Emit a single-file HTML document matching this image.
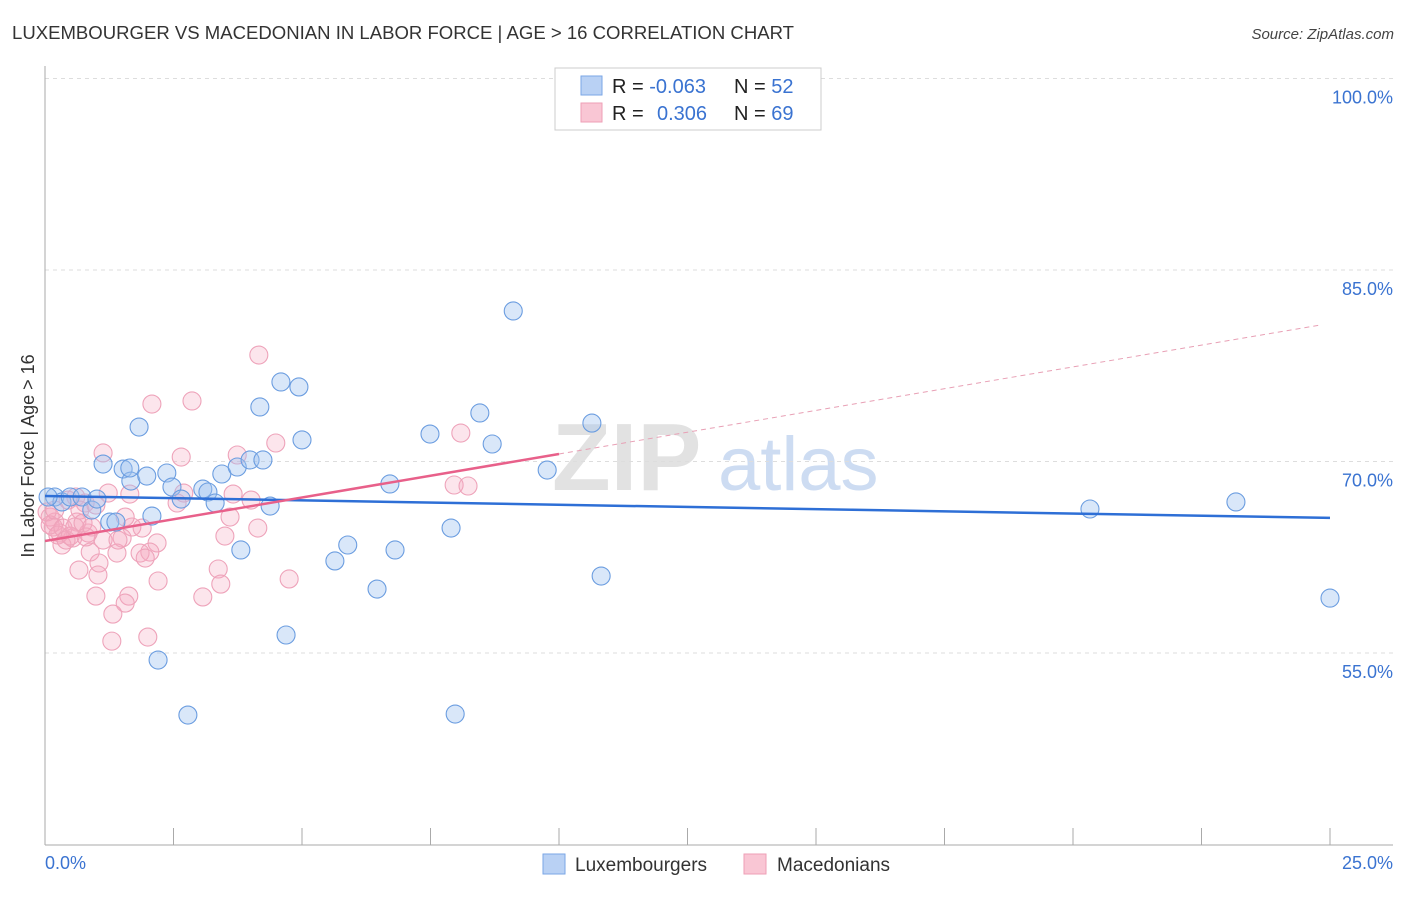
<!DOCTYPE html>
<html><head><meta charset="utf-8"><style>
body{margin:0;background:#fff;font-family:"Liberation Sans",sans-serif}
svg text{font-family:"Liberation Sans",sans-serif}
</style></head><body>
<svg id="chart" width="1406" height="892" viewBox="0 0 1406 892" xmlns="http://www.w3.org/2000/svg">
<text x="12" y="39" font-size="18" fill="#333" textLength="782" lengthAdjust="spacingAndGlyphs">LUXEMBOURGER VS MACEDONIAN IN LABOR FORCE | AGE &gt; 16 CORRELATION CHART</text>
<text x="1394" y="39" font-size="15" fill="#444" text-anchor="end" font-style="italic">Source: ZipAtlas.com</text>
<g>
<text x="552" y="490" font-size="96" fill="#e2e2e2" font-family="Liberation Serif" font-weight="bold">ZIP</text>
<text x="718" y="490" font-size="76" fill="#cddcf2">atlas</text>
</g>
<g id="grid"></g>
<g id="axes"></g>
<g id="marks"></g>
<text transform="translate(34,456) rotate(-90)" font-size="18" fill="#333" text-anchor="middle">In Labor Force | Age &gt; 16</text>
<g>
<rect x="555" y="68" width="266" height="62" fill="#fff" stroke="#ccc"/>
<rect x="581" y="76" width="21" height="19" fill="#b9d1f4" stroke="#7aa6e6"/>
<rect x="581" y="103" width="21" height="19" fill="#f9c6d4" stroke="#ee9fb6"/>
<text x="612" y="93" font-size="20" fill="#222">R = <tspan fill="#3a73d1">-0.063</tspan></text>
<text x="734" y="93" font-size="20" fill="#222">N = <tspan fill="#3a73d1">52</tspan></text>
<text x="612" y="120" font-size="20" fill="#222">R = <tspan fill="#3a73d1" x="657">0.306</tspan></text>
<text x="734" y="120" font-size="20" fill="#222">N = <tspan fill="#3a73d1">69</tspan></text>
</g>
<g>
<rect x="543" y="854" width="22" height="20" fill="#b9d1f4" stroke="#7aa6e6"/>
<text x="575" y="871" font-size="19" fill="#333">Luxembourgers</text>
<rect x="744" y="854" width="22" height="20" fill="#f9c6d4" stroke="#ee9fb6"/>
<text x="777" y="871" font-size="19" fill="#333">Macedonians</text>
</g>
</svg>
<script>
const yTicks=[55,70,85,100];
const yTickLabels=["55.0%","70.0%","85.0%","100.0%"];
const xTickLabels=["0.0%","25.0%"];
const luxX=[0.19,0.33,0.49,0.72,0.91,1.01,1.13,1.26,1.38,1.52,1.67,1.83,1.98,2.08,2.20,2.37,2.47,2.65,2.78,3.07,3.17,3.31,3.44,3.74,3.81,3.99,4.18,4.24,4.38,4.59,4.69,4.94,5.00,5.64,5.89,6.46,6.71,6.81,7.49,7.90,7.98,8.46,8.70,9.11,9.77,10.64,10.82,20.33,23.17,25.00,0.06,1.65];
const luxY=[67.22,66.83,67.22,67.22,66.20,67.06,69.80,65.26,65.26,69.41,68.47,72.70,68.86,65.73,54.45,69.10,68.00,67.06,50.14,67.84,67.61,66.75,69.02,69.57,63.07,70.12,74.27,70.12,66.51,76.23,56.41,75.84,71.69,62.21,63.46,60.01,68.24,63.07,72.15,64.79,50.22,73.80,71.37,81.79,69.33,73.01,61.03,66.28,66.83,59.30,67.22,69.49];
const macX=[4.16,2.08,2.86,4.49,2.65,1.13,3.74,1.23,1.65,2.70,3.66,4.01,2.57,0.60,0.45,0.78,3.60,4.14,3.50,1.89,1.69,1.50,1.13,0.62,0.19,0.10,0.29,0.54,0.84,2.18,2.04,1.40,1.85,0.88,1.05,0.66,1.03,3.37,3.42,2.20,4.75,3.07,0.99,1.63,1.56,1.32,2.00,1.30,0.33,0.16,8.09,7.96,8.23,0.04,0.10,0.19,0.25,0.35,0.41,0.49,0.58,0.68,0.74,0.80,0.91,0.99,1.42,1.56,1.95];
const macY=[78.34,74.50,74.74,71.45,70.35,70.67,70.51,67.53,67.45,67.53,67.45,66.98,66.75,67.22,66.98,66.75,65.65,64.79,64.16,64.79,64.87,64.01,63.85,65.26,65.26,65.65,64.40,64.01,64.40,63.62,62.91,62.83,62.83,62.91,62.05,61.50,61.11,61.58,60.40,60.64,60.80,59.39,59.46,59.46,58.91,58.05,56.25,55.93,63.46,64.87,72.23,68.16,68.08,66.05,65.03,66.20,64.24,64.79,63.85,64.16,64.87,66.20,65.18,64.09,64.87,66.59,63.85,65.65,62.44];
const luxTrend=[67.3,65.58];
const macTrend=[63.77,0.682];
const NS="http://www.w3.org/2000/svg";
const xs=v=>45+v/25*1285;
const ys=v=>78.5+(100-v)/15*191.5;
function mk(tag,attrs,parent){const e=document.createElementNS(NS,tag);for(const k in attrs)e.setAttribute(k,attrs[k]);document.getElementById(parent).appendChild(e);return e;}
yTicks.forEach((t,i)=>{
  const l=mk('line',{x1:45,x2:1393,y1:ys(t),y2:ys(t),stroke:'#ddd','stroke-dasharray':'4,4'},'grid');
  
  
  const tx=mk('text',{x:1393,y:ys(t)+25,'font-size':18,fill:'#3a73d1','text-anchor':'end'},'grid');
  tx.textContent=yTickLabels[i];
  
  
});
const ya=mk('line',{x1:45,x2:45,y1:66,y2:845,stroke:'#aaa'},'axes');


const xa=mk('line',{x1:45,x2:1393,y1:845,y2:845,stroke:'#aaa'},'axes');


for(let i=1;i<=10;i++){const t=mk('line',{x1:xs(i*2.5),x2:xs(i*2.5),y1:828,y2:845,stroke:'#aaa'},'axes');

}
const x0=mk('text',{x:45,y:869,'font-size':18,fill:'#3a73d1'},'axes');x0.textContent=xTickLabels[0];


const x1=mk('text',{x:1393,y:869,'font-size':18,fill:'#3a73d1','text-anchor':'end'},'axes');x1.textContent=xTickLabels[1];


macX.forEach((v,i)=>{const c=mk('circle',{cx:xs(v),cy:ys(macY[i]),r:9,fill:'rgba(246,170,192,0.3)',stroke:'#eea3ba','stroke-width':1.1},'marks');

});
luxX.forEach((v,i)=>{const c=mk('circle',{cx:xs(v),cy:ys(luxY[i]),r:9,fill:'rgba(160,194,240,0.4)',stroke:'#6b9de0','stroke-width':1.1},'marks');

});
const bl=mk('line',{x1:xs(0),y1:ys(luxTrend[0]),x2:xs(25),y2:ys(luxTrend[1]),stroke:'#2e6fd6','stroke-width':2.5},'marks');


const pl=mk('line',{x1:xs(0),y1:ys(macTrend[0]),x2:xs(10),y2:ys(macTrend[0]+10*macTrend[1]),stroke:'#e8608a','stroke-width':2.5},'marks');


const pd=mk('line',{x1:xs(10),y1:ys(macTrend[0]+10*macTrend[1]),x2:xs(24.8),y2:ys(macTrend[0]+24.8*macTrend[1]),stroke:'#e8a0b5','stroke-width':1,'stroke-dasharray':'5,4'},'marks');


</script>
</body></html>
